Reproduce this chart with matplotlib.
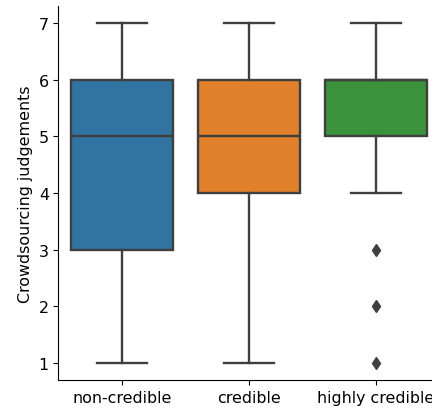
import matplotlib
matplotlib.use("Agg")
from matplotlib import pyplot as plt

plt.rcParams['font.size'] = 11.4

categories = ['non-credible', 'credible', 'highly credible']
medians = [5, 5, 6]
q1 = [3, 4, 5]
q3 = [6, 6, 6]
whislo = [1, 1, 4]
whishi = [7, 7, 7]
fliers = [[], [], [1, 2, 3]]
colors = ['#3274a1', '#e1812c', '#3a923a']

stats = []
for i in range(len(categories)):
    stats.append({'med': medians[i], 'q1': q1[i], 'q3': q3[i],
                  'whislo': whislo[i], 'whishi': whishi[i],
                  'fliers': fliers[i], 'label': categories[i]})

fig = plt.figure(figsize=(4.32, 4.10), dpi=100)
ax = fig.add_axes([58.5 / 432, 29 / 410, 381 / 432, 374 / 410])

line_c = '#3f3f3f'
lw = 1.7
bp = ax.bxp(stats, positions=range(len(categories)), widths=0.8,
            patch_artist=True,
            boxprops=dict(edgecolor=line_c, linewidth=lw),
            medianprops=dict(color=line_c, linewidth=lw),
            whiskerprops=dict(color=line_c, linewidth=lw),
            capprops=dict(color=line_c, linewidth=lw),
            flierprops=dict(marker='d', markerfacecolor=line_c,
                            markeredgecolor=line_c, markersize=6))
for patch, c in zip(bp['boxes'], colors):
    patch.set_facecolor(c)

ax.set_xlim(-0.5, 2.5)
ax.set_ylim(0.7, 7.3)
ax.set_xticks(range(len(categories)))
ax.set_xticklabels(categories)
ax.set_ylabel('Crowdsourcing judgements')
ax.spines['top'].set_visible(False)
ax.spines['right'].set_visible(False)

fig.savefig('out.png', dpi=100)
